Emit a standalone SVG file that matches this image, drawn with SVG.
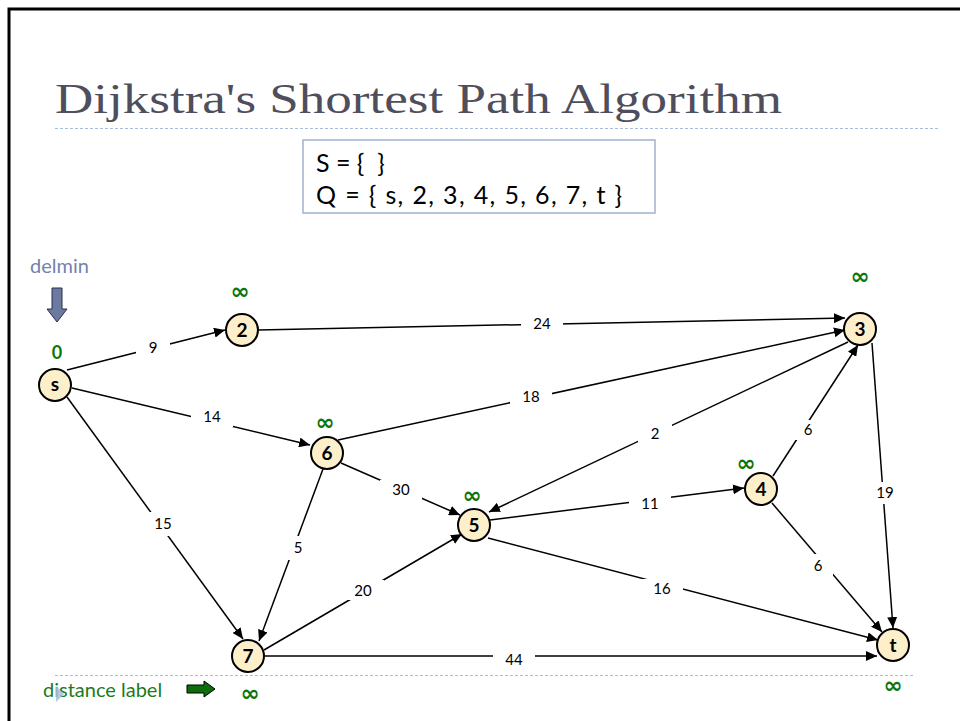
<svg xmlns="http://www.w3.org/2000/svg" width="960" height="721" viewBox="0 0 960 721">
  <defs>
    <marker id="arrow" markerUnits="userSpaceOnUse" markerWidth="12" markerHeight="10" refX="11" refY="5" orient="auto">
      <path d="M0,0 L11,5 L0,10 Z" fill="#000"/>
    </marker>
    <style>
      .title { font-family: "Liberation Serif", serif; font-size: 42px; fill: #4f4e5c; }
      .box { fill: #fff; stroke: #9fb4cc; stroke-width: 1.5; }
      .boxtext { font-family: Lato, "Liberation Sans", sans-serif; font-size: 25px; fill: #000; white-space: pre; }
      .rule { stroke: #a6bdd5; stroke-width: 1; stroke-dasharray: 3 2; fill: none; }
      .node circle { fill: #fdefc9; stroke: #000; stroke-width: 2; }
      .node text { font-family: Lato, "Liberation Sans", sans-serif; font-size: 19px; font-weight: bold; text-anchor: middle; fill: #000; }
      .edge { stroke: #000; stroke-width: 1.5; fill: none; marker-end: url(#arrow); }
      .lbl rect { fill: #fff; }
      .lbl text { font-family: Lato, "Liberation Sans", sans-serif; font-size: 15px; text-anchor: middle; fill: #000; }
      .dist { font-family: "DejaVu Sans", sans-serif; font-size: 23px; font-weight: bold; text-anchor: middle; fill: #0b760b; }
      .zero { font-family: Lato, "Liberation Sans", sans-serif; font-size: 18px; font-weight: bold; text-anchor: middle; fill: #0b760b; }
      .delmin { font-family: Lato, "Liberation Sans", sans-serif; font-size: 20px; fill: #7283ac; }
      .legend { font-family: Lato, "Liberation Sans", sans-serif; font-size: 20px; fill: #1d7a1d; }
    </style>
  </defs>

  <!-- slide frame -->
  <path d="M9,721 V9 H960" fill="none" stroke="#000" stroke-width="3"/>

  <!-- heading -->
  <text class="title" x="55" y="113" textLength="727" lengthAdjust="spacingAndGlyphs">Dijkstra's Shortest Path Algorithm</text>
  <line class="rule" x1="55" y1="128.5" x2="940" y2="128.5"/>

  <!-- sets S and Q -->
  <g id="sets">
    <rect class="box" x="303" y="140" width="352" height="73"/>
    <text class="boxtext" x="316" y="172">S = {  }</text>
    <text class="boxtext" x="316" y="204" textLength="306" lengthAdjust="spacing">Q = { s, 2, 3, 4, 5, 6, 7, t }</text>
  </g>

  <!-- delmin pointer -->
  <g id="delmin">
    <text class="delmin" x="30" y="273">delmin</text>
    <path d="M52,288 H62 V309 H67 L57,322 L47,309 H52 Z" fill="#6c7aa2" stroke="#2a2f45" stroke-width="1"/>
  </g>

  <!-- connectors -->
  <g id="edges">
    <line class="edge" x1="67" y1="370" x2="225" y2="330"/>
    <line class="edge" x1="258" y1="330" x2="845" y2="318"/>
    <line class="edge" x1="338" y1="440" x2="845" y2="330"/>
    <line class="edge" x1="848" y1="342" x2="489" y2="512"/>
    <line class="edge" x1="773" y1="476" x2="858" y2="345"/>
    <line class="edge" x1="872" y1="343" x2="893" y2="628"/>
    <line class="edge" x1="72" y1="388" x2="310" y2="445"/>
    <line class="edge" x1="67" y1="397" x2="243" y2="639"/>
    <line class="edge" x1="323" y1="469" x2="259" y2="641"/>
    <line class="edge" x1="341" y1="463" x2="460" y2="515"/>
    <line class="edge" x1="264" y1="650" x2="462" y2="534"/>
    <line class="edge" x1="490" y1="520" x2="744" y2="488"/>
    <line class="edge" x1="488" y1="538" x2="878" y2="640"/>
    <line class="edge" x1="772" y1="503" x2="882" y2="632"/>
    <line class="edge" x1="265" y1="656" x2="877" y2="656"/>
  </g>

  <!-- edge weights -->
  <g id="weights">
    <g class="lbl"><rect x="136" y="338" width="34" height="20"/><text x="153" y="353">9</text></g>
    <g class="lbl"><rect x="521" y="314" width="42" height="20"/><text x="542" y="329">24</text></g>
    <g class="lbl"><rect x="510" y="387" width="42" height="20"/><text x="531" y="402">18</text></g>
    <g class="lbl"><rect x="638" y="424" width="34" height="20"/><text x="655" y="439">2</text></g>
    <g class="lbl"><rect x="791" y="420" width="34" height="20"/><text x="808" y="435">6</text></g>
    <g class="lbl"><rect x="870" y="482" width="30" height="22"/><text x="885" y="498">19</text></g>
    <g class="lbl"><rect x="191" y="407" width="42" height="20"/><text x="212" y="422">14</text></g>
    <g class="lbl"><rect x="144" y="512" width="38" height="24"/><text x="163" y="529">15</text></g>
    <g class="lbl"><rect x="285" y="536" width="26" height="24"/><text x="298" y="553">5</text></g>
    <g class="lbl"><rect x="380" y="480" width="42" height="20"/><text x="401" y="495">30</text></g>
    <g class="lbl"><rect x="342" y="580" width="42" height="20"/><text x="363" y="596">20</text></g>
    <g class="lbl"><rect x="629" y="494" width="42" height="20"/><text x="650" y="509">11</text></g>
    <g class="lbl"><rect x="641" y="579" width="42" height="20"/><text x="662" y="594">16</text></g>
    <g class="lbl"><rect x="803" y="554" width="30" height="24"/><text x="818" y="571">6</text></g>
    <g class="lbl"><rect x="493" y="649" width="42" height="20"/><text x="514" y="665">44</text></g>
  </g>

  <!-- vertices -->
  <g id="node-s" class="node"><circle cx="55" cy="385" r="16"/><text x="55" y="391">s</text></g>
  <g id="node-2" class="node"><circle cx="242" cy="330" r="16"/><text x="242" y="337">2</text></g>
  <g id="node-3" class="node"><circle cx="860" cy="329" r="16"/><text x="860" y="336">3</text></g>
  <g id="node-4" class="node"><circle cx="761" cy="489" r="16"/><text x="761" y="496">4</text></g>
  <g id="node-5" class="node"><circle cx="474" cy="525" r="16"/><text x="474" y="532">5</text></g>
  <g id="node-6" class="node"><circle cx="327" cy="453" r="16"/><text x="327" y="460">6</text></g>
  <g id="node-7" class="node"><circle cx="248" cy="656" r="16"/><text x="248" y="663">7</text></g>
  <g id="node-t" class="node"><circle cx="893" cy="645" r="16"/><text x="893" y="652">t</text></g>

  <!-- tentative distances -->
  <g id="distances">
    <text class="zero" x="57" y="359">0</text>
    <text class="dist" x="240" y="299">∞</text>
    <text class="dist" x="860" y="284">∞</text>
    <text class="dist" x="325" y="430">∞</text>
    <text class="dist" x="746" y="471">∞</text>
    <text class="dist" x="472" y="503">∞</text>
    <text class="dist" x="893" y="693">∞</text>
  </g>

  <!-- legend -->
  <line class="rule" x1="55" y1="675.5" x2="915" y2="675.5"/>
  <g id="legend">
    <text class="legend" x="43" y="697">distance label</text>
    <path d="M56,686 L64,694 L56,702 Z" fill="#a7c0de" opacity="0.85"/>
    <path d="M187,685 H204 V681 L215,689 L204,697 V693 H187 Z" fill="#0b6e0b" stroke="#000" stroke-width="1"/>
    <text class="dist" x="250" y="701">∞</text>
  </g>
</svg>
